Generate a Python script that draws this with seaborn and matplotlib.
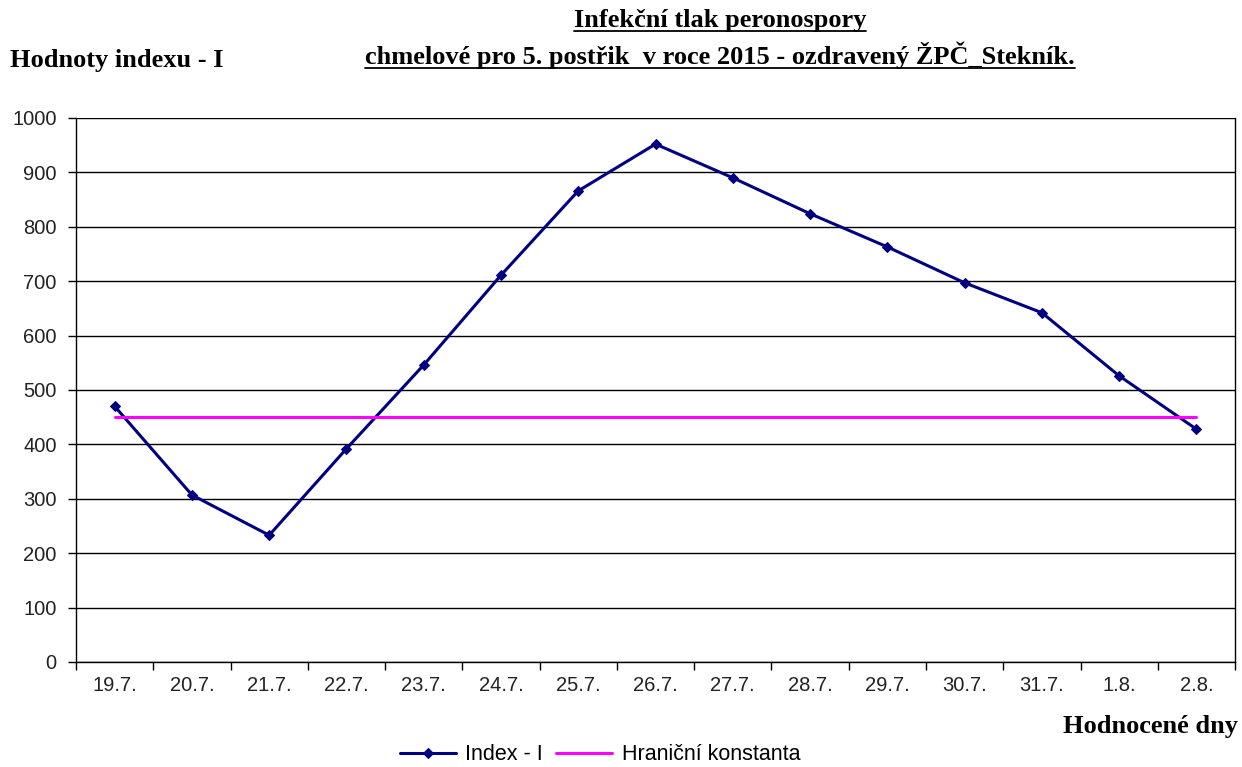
import matplotlib
matplotlib.use('Agg')
import matplotlib.pyplot as plt
import seaborn as sns
import pandas as pd
from matplotlib.lines import Line2D

# Data
days = ['19.7.', '20.7.', '21.7.', '22.7.', '23.7.', '24.7.', '25.7.', '26.7.',
        '27.7.', '28.7.', '29.7.', '30.7.', '31.7.', '1.8.', '2.8.']
index_i = [470, 307, 233, 392, 546, 711, 866, 952, 890, 824, 763, 697, 642, 526, 428]
limit = [450] * len(days)

df = pd.DataFrame({'pos': range(len(days)), 'day': days,
                   'Index - I': index_i, 'Hraniční konstanta': limit})

sns.set_theme(style='white')
plt.rcParams['font.family'] = ['Liberation Sans', 'DejaVu Sans']
plt.rcParams['text.color'] = 'black'
plt.rcParams['xtick.color'] = 'black'
plt.rcParams['ytick.color'] = 'black'
plt.rcParams['xtick.labelcolor'] = '#222222'
plt.rcParams['ytick.labelcolor'] = '#222222'

fig = plt.figure(figsize=(12.42, 7.67), dpi=100)
ax = fig.add_axes([0.0612, 0.1369, 0.9332, 0.7093])

sns.lineplot(data=df, x='pos', y='Index - I', ax=ax, color='#000080', lw=2.2,
             marker='D', markersize=5, markeredgecolor='#000080', label='Index - I')
sns.lineplot(data=df, x='pos', y='Hraniční konstanta', ax=ax, color='#FF00FF', lw=2.2,
             label='Hraniční konstanta')

ax.set_xlim(-0.5, len(days) - 0.5)
ax.set_ylim(0, 1000)
ax.set_yticks(range(0, 1001, 100))
ax.yaxis.grid(True, color='black', lw=1)
ax.set_axisbelow(True)
ax.set_xticks(range(len(days)))
ax.set_xticklabels(days)
ax.set_xticks([i - 0.5 for i in range(len(days) + 1)], minor=True)
ax.tick_params(axis='x', which='major', length=0, pad=10, labelsize=14.5)
ax.tick_params(axis='x', which='minor', length=6, width=1, color='black', direction='out')
ax.tick_params(axis='y', length=6, width=1, color='black', direction='out', labelsize=14.5, pad=8)
ax.xaxis.set_tick_params(bottom=True, which='both')
ax.yaxis.set_tick_params(left=True)
for s in ax.spines.values():
    s.set_color('black')
    s.set_linewidth(1)
ax.spines['top'].set_visible(False)
ax.set_xlabel('')
ax.set_ylabel('')

leg = ax.legend(loc='center', bbox_to_anchor=(600 / 1242, 1 - 755 / 767),
                bbox_transform=fig.transFigure, ncol=2, frameon=False,
                fontsize=15.5, handlelength=2.6, columnspacing=0.6, handletextpad=0.45,
                borderpad=0, borderaxespad=0)

serif = ['Liberation Serif', 'DejaVu Serif']
fig.text(10 / 1242, 1 - 60 / 767, 'Hodnoty indexu - I', family=serif, weight='bold',
         fontsize=19, va='center', ha='left')
fig.text(1238 / 1242, 1 - 727 / 767, 'Hodnocené dny', family=serif, weight='bold',
         fontsize=19, va='center', ha='right')
t1 = fig.text(720 / 1242, 1 - 20 / 767, 'Infekční tlak peronospory', family=serif,
              weight='bold', fontsize=19, va='center', ha='center')
t2 = fig.text(720 / 1242, 1 - 55 / 767,
              'chmelové pro 5. postřik  v roce 2015 - ozdravený ŽPČ_Stekník.',
              family=serif, weight='bold', fontsize=19, va='center', ha='center')

# underline the title lines
fig.canvas.draw()
r = fig.canvas.get_renderer()
inv = fig.transFigure.inverted()
for t in (t1, t2):
    bb = t.get_window_extent(renderer=r)
    (x0, y0), (x1, y1) = inv.transform([(bb.x0, bb.y0), (bb.x1, bb.y1)])
    fig.add_artist(Line2D([x0, x1], [y0 + 0.001, y0 + 0.001], transform=fig.transFigure,
                          color='black', lw=1.3))

fig.savefig('out.png', dpi=100)
